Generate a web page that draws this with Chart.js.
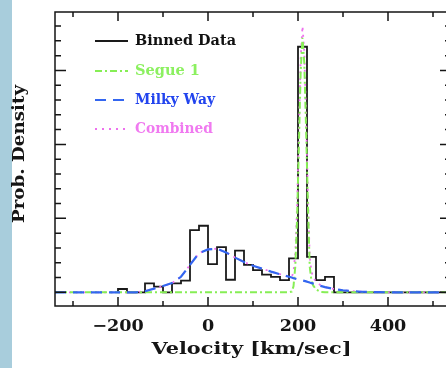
<!DOCTYPE html>
<html>
<head>
<meta charset="utf-8">
<script src="https://cdn.jsdelivr.net/npm/chart.js@4.4.1/dist/chart.umd.min.js"></script>
<style>
  html, body { margin: 0; padding: 0; background: #fff; overflow: hidden; }
  #wrap { position: relative; width: 446px; height: 368px; overflow: hidden; background: #fff; }
  #stripe { position: absolute; left: 0; top: 0; width: 12px; height: 368px; background: #a8cddc; }
  #box { position: absolute; left: 0; top: 0; width: 460px; height: 368px; }
</style>
</head>
<body>
<div id="wrap">
  <div id="stripe"></div>
  <div id="box"><canvas id="chart" width="460" height="368"></canvas></div>
</div>
<script>
// histogram: left edge of each 20 km/s bin and its density
const binEdges = [-200, -180, -160, -140, -120, -100, -80, -60, -40, -20, 0, 20,
  40, 60, 80, 100, 120, 140, 160, 180, 200, 220, 240, 260, 280];
const binDensity = [0.045, 0, 0, 0.12, 0.076, 0, 0.12, 0.157, 0.84, 0.90, 0.38, 0.61,
  0.17, 0.565, 0.37, 0.30, 0.24, 0.21, 0.166, 0.46, 3.32, 0.48, 0.166, 0.21];

// model curves
const curveVelocity = [-340, -320, -300, -280, -260, -240, -220, -200, -180, -160,
  -140, -120, -100, -80, -60, -40, -20, 0, 20, 40, 60, 80, 100, 120, 140, 160, 180,
  186, 190, 194, 198, 202, 206, 210, 214, 218, 222, 226, 230, 234,
  240, 250, 260,
  280, 300, 320, 340, 360, 380, 400, 420, 440, 460, 480, 500, 520, 540];
const segueDensity = [0, 0, 0, 0, 0, 0, 0, 0, 0, 0,
  0, 0, 0, 0, 0, 0, 0, 0, 0, 0, 0, 0, 0, 0, 0, 0, 0,
  0.01, 0.08, 0.35, 1.0, 2.0, 3.0, 3.44, 3.1, 2.2, 1.2, 0.35, 0.15, 0.09,
  0.04, 0.005, 0,
  0, 0, 0, 0, 0, 0, 0, 0, 0, 0, 0, 0, 0, 0];
const milkyWayDensity = [0, 0, 0, 0, 0, 0, 0, 0, 0, 0,
  0.015, 0.05, 0.085, 0.125, 0.21, 0.37, 0.53, 0.58, 0.59, 0.54, 0.47, 0.41, 0.36, 0.32, 0.28, 0.245, 0.21,
  0.2, 0.19, 0.185, 0.178, 0.17, 0.165, 0.16, 0.154, 0.148, 0.14, 0.132, 0.125, 0.117,
  0.105, 0.087, 0.07,
  0.045, 0.028, 0.016, 0.008, 0.004, 0.002, 0, 0, 0, 0, 0, 0, 0, 0];
const combinedDensity = [0, 0, 0, 0, 0, 0, 0, 0, 0, 0,
  0.015, 0.05, 0.085, 0.125, 0.21, 0.37, 0.53, 0.58, 0.59, 0.54, 0.47, 0.41, 0.36, 0.32, 0.28, 0.245, 0.21,
  0.21, 0.27, 0.53, 1.18, 2.17, 3.17, 3.6, 3.25, 2.35, 1.34, 0.48, 0.28, 0.2,
  0.145, 0.095, 0.07,
  0.045, 0.028, 0.016, 0.008, 0.004, 0.002, 0, 0, 0, 0, 0, 0, 0, 0];

// axes
const xMajorTicks = [-200, 0, 200, 400];
const xTickLabels = ['\u2212200', '0', '200', '400'];
const xMinorTicks = [-300, -100, 100, 300, 500];
const yMajorTicks = [0, 1, 2, 3];
const yMinorTicks = [0.2, 0.4, 0.6, 0.8, 1.2, 1.4, 1.6, 1.8, 2.2, 2.4, 2.6, 2.8, 3.2, 3.4, 3.6];

const SERIF = '"DejaVu Serif", "Liberation Serif", serif';

// histogram outline as step points
const histPoints = [{ x: binEdges[0], y: 0 }];
binDensity.forEach((d, i) => histPoints.push({ x: binEdges[i], y: d }));
histPoints.push({ x: binEdges[binEdges.length - 1], y: 0 });
histPoints.push({ x: 540, y: 0 });

const toPoints = (ys) => curveVelocity.map((v, i) => ({ x: v, y: ys[i] }));

// text squeezed/stretched to a given width
function fitText(ctx, text, cx, cy, width, rotate) {
  ctx.save();
  ctx.translate(cx, cy);
  if (rotate) ctx.rotate(-Math.PI / 2);
  const w = ctx.measureText(text).width;
  ctx.scale(width / w, 1);
  ctx.textAlign = 'center';
  ctx.textBaseline = 'middle';
  ctx.fillText(text, 0, 0);
  ctx.restore();
}

const framePlugin = {
  id: 'frame',
  afterDraw(chart) {
    const { ctx, chartArea: a, scales: { x, y } } = chart;
    ctx.save();
    ctx.strokeStyle = '#151515';
    ctx.lineWidth = 1.5;
    ctx.setLineDash([]);
    ctx.strokeRect(a.left, a.top, a.right - a.left, a.bottom - a.top);

    ctx.beginPath();
    const xt = (v, len) => {
      const px = x.getPixelForValue(v);
      ctx.moveTo(px, a.bottom); ctx.lineTo(px, a.bottom - len);
      ctx.moveTo(px, a.top); ctx.lineTo(px, a.top + len);
    };
    const yt = (v, len) => {
      const py = y.getPixelForValue(v);
      ctx.moveTo(a.left, py); ctx.lineTo(a.left + len, py);
      ctx.moveTo(a.right, py); ctx.lineTo(a.right - len, py);
    };
    xMajorTicks.forEach(v => xt(v, 9));
    xMinorTicks.forEach(v => xt(v, 5));
    yMajorTicks.forEach(v => yt(v, 11));
    yMinorTicks.forEach(v => yt(v, 6));
    ctx.stroke();

    // tick labels, a touch wider than the font
    ctx.fillStyle = '#151515';
    ctx.font = 'bold 16px ' + SERIF;
    xMajorTicks.forEach((v, i) => {
      const w = ctx.measureText(xTickLabels[i]).width * 1.1;
      fitText(ctx, xTickLabels[i], x.getPixelForValue(v), 327, w, false);
    });

    // axis titles
    ctx.font = 'bold 17px ' + SERIF;
    fitText(ctx, 'Velocity [km/sec]', 251.5, 350, 200, false);
    fitText(ctx, 'Prob. Density', 20, 154, 138, true);

    // legend
    const rows = [
      { ds: chart.data.datasets[0], y: 41, w: 101 },
      { ds: chart.data.datasets[1], y: 71, w: 65 },
      { ds: chart.data.datasets[2], y: 100, w: 80 },
      { ds: chart.data.datasets[3], y: 129, w: 78 }
    ];
    ctx.font = 'bold 14px ' + SERIF;
    rows.forEach(r => {
      ctx.beginPath();
      ctx.strokeStyle = r.ds.borderColor;
      ctx.lineWidth = r.ds.borderWidth;
      ctx.setLineDash(r.ds.borderDash || []);
      ctx.moveTo(95, r.y); ctx.lineTo(128, r.y);
      ctx.stroke();
      ctx.setLineDash([]);
      ctx.fillStyle = r.ds.textColor;
      fitText(ctx, r.ds.label, 135 + r.w / 2, r.y, r.w, false);
    });
    ctx.restore();
  }
};

new Chart(document.getElementById('chart'), {
  type: 'line',
  data: {
    datasets: [
      {
        label: 'Binned Data', data: histPoints, stepped: 'before',
        borderColor: '#1a1a1a', textColor: '#111', borderWidth: 1.8, order: 3
      },
      {
        label: 'Segue 1', data: toPoints(segueDensity),
        borderColor: '#86ee55', textColor: '#8cf060', borderWidth: 2, borderDash: [7, 3, 2, 3], order: 1
      },
      {
        label: 'Milky Way', data: toPoints(milkyWayDensity),
        borderColor: '#3366f0', textColor: '#2244ee', borderWidth: 2.2, borderDash: [11, 7], order: 0
      },
      {
        label: 'Combined', data: toPoints(combinedDensity),
        borderColor: '#ee70ee', textColor: '#f07af0', borderWidth: 1.8, borderDash: [2, 5], order: 2
      }
    ]
  },
  options: {
    responsive: false,
    animation: false,
    elements: { point: { radius: 0 }, line: { tension: 0 } },
    layout: { padding: { left: 55, top: 12, right: 9, bottom: 62 } },
    scales: {
      x: { type: 'linear', min: -340, max: 540, display: false },
      y: { type: 'linear', min: -0.185, max: 3.79, display: false }
    },
    plugins: { legend: { display: false }, tooltip: { enabled: false } }
  },
  plugins: [framePlugin]
});
</script>
</body>
</html>
